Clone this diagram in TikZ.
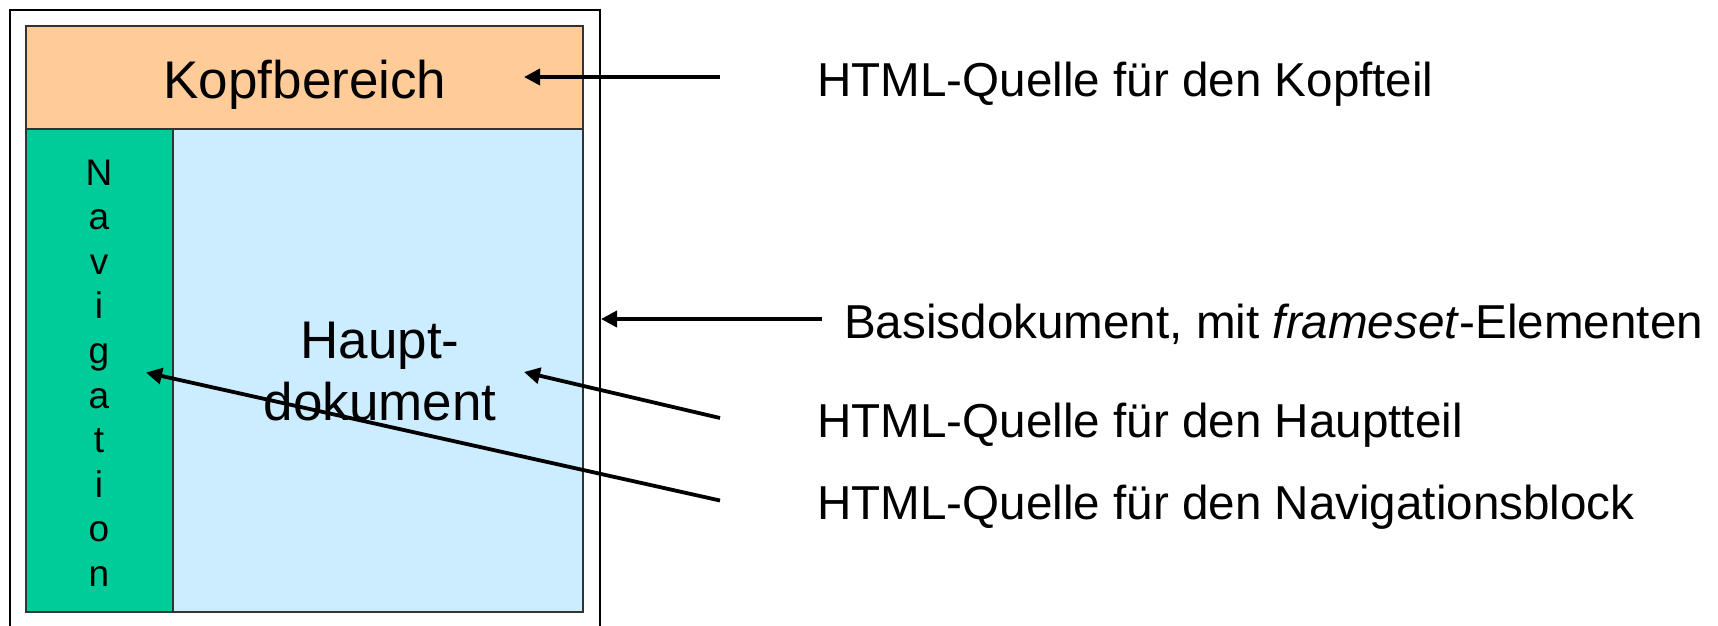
\documentclass[tikz,border=0pt]{standalone}
\usepackage{fontspec}
\setmainfont{Liberation Sans}
\usetikzlibrary{arrows.meta}

\definecolor{kopf}{HTML}{FFCC99}
\definecolor{navi}{HTML}{00CC99}
\definecolor{haupt}{HTML}{CCECFF}

\begin{document}
\begin{tikzpicture}[x=1pt,y=-1pt,
  rahmen/.style={draw=black!80,line width=1.5pt},
  zeiger/.style={line width=3.8pt,-{Triangle[length=16pt,width=16pt]}},
  gross/.style={font=\fontsize{53}{62}\selectfont,inner sep=0pt},
  quelle/.style={anchor=base west,font=\fontsize{47.6}{57}\selectfont,inner sep=0pt},
  buchstabe/.style={anchor=base,font=\fontsize{37}{44}\selectfont,inner sep=0pt}]

\useasboundingbox (0,0) rectangle (1718,625);

% Basisdokument und Frames
\draw [line width=2pt] (10,650) -- (10,10) -- (600,10) -- (600,650);
\filldraw [rahmen,fill=kopf] (26,26) rectangle (583,129);
\filldraw [rahmen,fill=navi] (26,129) rectangle (173,612);
\filldraw [rahmen,fill=haupt] (173,129) rectangle (583,612);

\node [gross,anchor=base] (kopfbereich) at (305,98) {Kopfbereich};
\node [gross,align=center] (hauptdok) at (380,372) {Haupt-\\dokument};
\foreach \b [count=\i] in {N,a,v,i,g,a,t,i,o,n}
  \node [buchstabe] (nav\i) at (99,{185+44.6*(\i-1)}) {\b};

% Beschriftungen
\node [quelle] (kopfquelle) at (817,96) {HTML-Quelle für den Kopfteil};
\node [quelle] (basisdok) at (844,338) {Basisdokument, mit \textit{frameset}-Elementen};
\node [quelle] (hauptquelle) at (817,437.5) {HTML-Quelle für den Hauptteil};
\node [quelle] (naviquelle) at (817,519) {HTML-Quelle für den Navigationsblock};

% Pfeile
\coordinate (k1) at (720,77);    \coordinate (k2) at (524,77);
\coordinate (b1) at (822,319);   \coordinate (b2) at (601,319);
\coordinate (h1) at (720,418);   \coordinate (h2) at (524,372);
\coordinate (n1) at (720,500.5); \coordinate (n2) at (146,372.5);

\draw [zeiger] (k1) -- (k2);
\draw [zeiger] (b1) -- (b2);
\draw [zeiger] (h1) -- (h2);
\draw [zeiger] (n1) -- (n2);

\end{tikzpicture}
\end{document}
